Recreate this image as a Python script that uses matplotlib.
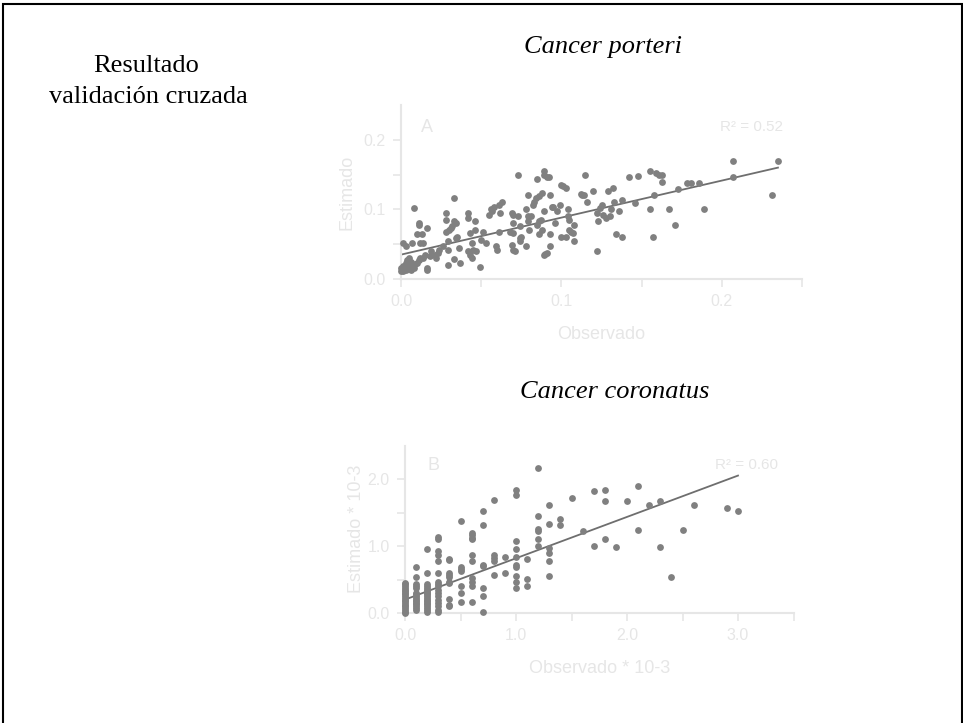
import matplotlib
matplotlib.use("Agg")
import matplotlib.pyplot as plt
import numpy as np
from matplotlib.patches import Rectangle

# panel A : Cancer porteri
obs_a = [0.000, 0.001, 0.003, 0.004, 0.005, 0.006, 0.007, 0.004, 0.001, 0.000,
         0.003, 0.005, 0.006, 0.008, 0.009, 0.010, 0.011, 0.012, 0.001, 0.003,
         0.007, 0.008, 0.011, 0.011, 0.010, 0.013, 0.012, 0.014, 0.016, 0.015,
         0.014, 0.016, 0.016, 0.018, 0.019, 0.021, 0.022, 0.023, 0.024, 0.026,
         0.028, 0.028, 0.028, 0.029, 0.029, 0.029, 0.030, 0.031, 0.032, 0.033,
         0.034, 0.033, 0.033, 0.034, 0.035, 0.036, 0.037, 0.042, 0.042, 0.043,
         0.044, 0.042, 0.043, 0.044, 0.045, 0.046, 0.046, 0.047, 0.049, 0.050,
         0.051, 0.053, 0.055, 0.056, 0.057, 0.058, 0.059, 0.060, 0.061, 0.062,
         0.063, 0.061, 0.068, 0.069, 0.070, 0.070, 0.071, 0.069, 0.070, 0.070,
         0.073, 0.073, 0.074, 0.074, 0.075, 0.074, 0.078, 0.078, 0.079, 0.079,
         0.079, 0.080, 0.081, 0.082, 0.083, 0.084, 0.085, 0.086, 0.085, 0.086,
         0.086, 0.087, 0.088, 0.088, 0.089, 0.089, 0.089, 0.091, 0.092, 0.089,
         0.090, 0.091, 0.093, 0.093, 0.093, 0.094, 0.095, 0.096, 0.097, 0.099,
         0.100, 0.101, 0.103, 0.100, 0.103, 0.104, 0.104, 0.105, 0.105, 0.106,
         0.107, 0.108, 0.108, 0.112, 0.113, 0.114, 0.115, 0.116, 0.120, 0.122,
         0.122, 0.123, 0.124, 0.125, 0.126, 0.128, 0.129, 0.130, 0.131, 0.132,
         0.133, 0.134, 0.136, 0.138, 0.138, 0.142, 0.146, 0.148, 0.155, 0.155,
         0.157, 0.158, 0.159, 0.161, 0.163, 0.163, 0.167, 0.171, 0.173, 0.178,
         0.181, 0.186, 0.189, 0.207, 0.207, 0.231, 0.235]
est_a = [0.016, 0.018, 0.013, 0.021, 0.016, 0.025, 0.018, 0.028, 0.011, 0.011,
         0.023, 0.030, 0.013, 0.016, 0.021, 0.023, 0.028, 0.030, 0.052, 0.047,
         0.052, 0.102, 0.080, 0.078, 0.064, 0.064, 0.052, 0.052, 0.073, 0.035,
         0.030, 0.016, 0.013, 0.033, 0.040, 0.035, 0.030, 0.037, 0.042, 0.047,
         0.095, 0.085, 0.068, 0.054, 0.042, 0.020, 0.071, 0.073, 0.076, 0.083,
         0.080, 0.117, 0.029, 0.059, 0.061, 0.044, 0.023, 0.095, 0.087, 0.066,
         0.052, 0.040, 0.035, 0.030, 0.042, 0.083, 0.071, 0.040, 0.017, 0.056,
         0.068, 0.052, 0.092, 0.100, 0.097, 0.104, 0.047, 0.042, 0.107, 0.095,
         0.111, 0.068, 0.068, 0.095, 0.092, 0.042, 0.040, 0.049, 0.066, 0.080,
         0.150, 0.090, 0.076, 0.059, 0.061, 0.054, 0.047, 0.100, 0.090, 0.083,
         0.121, 0.071, 0.090, 0.107, 0.111, 0.116, 0.143, 0.119, 0.078, 0.064,
         0.083, 0.085, 0.123, 0.071, 0.097, 0.155, 0.150, 0.147, 0.146, 0.035,
         0.036, 0.037, 0.047, 0.121, 0.064, 0.104, 0.103, 0.080, 0.097, 0.107,
         0.135, 0.133, 0.131, 0.061, 0.061, 0.100, 0.090, 0.085, 0.071, 0.068,
         0.066, 0.054, 0.078, 0.122, 0.120, 0.121, 0.149, 0.111, 0.126, 0.040,
         0.095, 0.083, 0.102, 0.107, 0.092, 0.088, 0.126, 0.090, 0.100, 0.131,
         0.111, 0.064, 0.097, 0.060, 0.114, 0.146, 0.109, 0.148, 0.155, 0.100,
         0.060, 0.121, 0.152, 0.150, 0.150, 0.140, 0.100, 0.077, 0.130, 0.138,
         0.138, 0.138, 0.100, 0.169, 0.146, 0.120, 0.169]
fit_a = (0.035, 0.532)   # intercept, slope
r2_a = "0.52"

# panel B : Cancer coronatus (valores * 10-3)
obs_b_cols = [0.0, 0.1, 0.2, 0.3, 0.4, 0.5, 0.6, 0.7, 0.8, 0.9, 1.0, 1.1, 1.2,
              1.3, 1.4, 1.5, 1.6, 1.7, 1.8, 1.9, 2.0, 2.1, 2.2, 2.3, 2.4, 2.5,
              2.6, 2.9, 3.0]
est_b_cols = [
    [0.0, 0.02, 0.05, 0.08, 0.10, 0.12, 0.15, 0.18, 0.20, 0.22, 0.25, 0.28,
     0.30, 0.33, 0.35, 0.38, 0.40, 0.43, 0.45],
    [0.68, 0.53, 0.40, 0.37, 0.43, 0.05, 0.08, 0.10, 0.13, 0.15, 0.18, 0.20,
     0.23, 0.25, 0.28, 0.30],
    [0.96, 0.60, 0.02, 0.05, 0.08, 0.10, 0.13, 0.15, 0.18, 0.20, 0.23, 0.25,
     0.28, 0.30, 0.33, 0.35, 0.38, 0.40, 0.43],
    [1.13, 1.10, 0.92, 0.87, 0.77, 0.60, 0.47, 0.43, 0.40, 0.35, 0.30, 0.25,
     0.20, 0.15, 0.10, 0.05, 0.02],
    [0.81, 0.79, 0.60, 0.57, 0.53, 0.47, 0.45, 0.21, 0.12, 0.10],
    [1.37, 0.68, 0.65, 0.62, 0.40, 0.30, 0.16],
    [1.19, 1.16, 1.12, 1.10, 0.87, 0.77, 0.52, 0.47, 0.40, 0.16],
    [1.52, 1.31, 0.72, 0.70, 0.37, 0.26, 0.02],
    [1.69, 0.87, 0.82, 0.77, 0.56],
    [0.84, 0.59],
    [1.84, 1.76, 1.07, 0.95, 0.84, 0.72, 0.69, 0.55, 0.46, 0.37],
    [0.81, 0.51, 0.41],
    [2.17, 1.45, 1.25, 1.22, 1.10, 1.00],
    [1.61, 1.33, 0.97, 0.90, 0.77, 0.55],
    [1.40, 1.31],
    [1.71],
    [1.22],
    [1.82, 1.00],
    [1.84, 1.67, 1.10],
    [0.98],
    [1.67],
    [1.89, 1.24],
    [1.61],
    [1.67, 0.98],
    [0.53],
    [1.24],
    [1.61],
    [1.57],
    [1.52],
]
fit_b = (0.20, 0.617)
r2_b = "0.60"

LIGHT = "#e6e6e6"
PT = "#808080"
LINE = "#6e6e6e"

plt.rcParams["font.family"] = ["Liberation Sans", "DejaVu Sans"]

fig = plt.figure(figsize=(9.63, 7.23), dpi=100)

# marco negro
fig.patches.append(Rectangle((2.7 / 963, -0.1), 959.3 / 963, 1.1 - 4 / 723,
                             transform=fig.transFigure, fill=False,
                             edgecolor="black", linewidth=1.5, zorder=10))

serif = dict(family="Liberation Serif", fontsize=19, ha="center", va="center")
fig.text(146 / 963, 1 - 66 / 723, "Resultado", **serif)
fig.text(148 / 963, 1 - 97 / 723, "validación cruzada", **serif)
fig.text(603 / 963, 1 - 47 / 723, "Cancer porteri", style="italic", **serif)
fig.text(615 / 963, 1 - 392 / 723, "Cancer coronatus", style="italic", **serif)


def style_axis(ax):
    for s in ["top", "right"]:
        ax.spines[s].set_visible(False)
    for s in ["left", "bottom"]:
        ax.spines[s].set_color(LIGHT)
        ax.spines[s].set_linewidth(1.5)
    ax.tick_params(which="both", direction="out", length=6, width=1.2,
                   color=LIGHT, labelcolor=LIGHT, labelsize=11.5, pad=5)


# ---- panel A
axa = fig.add_axes([401 / 963, 1 - 279 / 723, 401 / 963, 174 / 723])
axa.scatter(obs_a, est_a, s=24, color=PT, linewidths=0, zorder=3, clip_on=False)
xx = np.array([0.0, max(obs_a)])
axa.plot(xx, fit_a[0] + fit_a[1] * xx, color=LINE, lw=1.3, zorder=2)
axa.set_xlim(0, 0.25)
axa.set_ylim(0, 0.25)
axa.set_xticks([0.0, 0.1, 0.2])
axa.set_xticks([0.05, 0.15, 0.25], minor=True)
axa.set_yticks([0.0, 0.1, 0.2])
axa.set_yticks([0.05, 0.15], minor=True)
axa.set_xticklabels(["0.0", "0.1", "0.2"])
axa.set_yticklabels(["0.0", "0.1", "0.2"])
style_axis(axa)
axa.set_xlabel("Observado", color=LIGHT, fontsize=13, labelpad=12)
axa.set_ylabel("Estimado", color=LIGHT, fontsize=13, labelpad=6)
axa.text(0.016, 0.218, "A", color=LIGHT, fontsize=13, ha="center", va="center")
axa.text(0.238, 0.218, "R² = " + r2_a, color=LIGHT, fontsize=11, ha="right", va="center")

# ---- panel B
axb = fig.add_axes([405 / 963, 1 - 613 / 723, 388.5 / 963, 167.5 / 723])
obs_b = [x for x, col in zip(obs_b_cols, est_b_cols) for _ in col]
est_b = [y for col in est_b_cols for y in col]
axb.scatter(obs_b, est_b, s=24, color=PT, linewidths=0, zorder=3, clip_on=False)
xx = np.array([0.0, max(obs_b)])
axb.plot(xx, fit_b[0] + fit_b[1] * xx, color=LINE, lw=1.3, zorder=2)
axb.set_xlim(0, 3.5)
axb.set_ylim(0, 2.5)
axb.set_xticks([0.0, 1.0, 2.0, 3.0])
axb.set_xticks([0.5, 1.5, 2.5, 3.5], minor=True)
axb.set_yticks([0.0, 1.0, 2.0])
axb.set_yticks([0.5, 1.5], minor=True)
axb.set_xticklabels(["0.0", "1.0", "2.0", "3.0"])
axb.set_yticklabels(["0.0", "1.0", "2.0"])
style_axis(axb)
axb.set_xlabel("Observado * 10-3", color=LIGHT, fontsize=13, labelpad=12)
axb.set_ylabel("Estimado * 10-3", color=LIGHT, fontsize=13, labelpad=2)
axb.text(0.26, 2.2, "B", color=LIGHT, fontsize=13, ha="center", va="center")
axb.text(3.36, 2.21, "R² = " + r2_b, color=LIGHT, fontsize=11, ha="right", va="center")

fig.savefig("out.png", dpi=100)
